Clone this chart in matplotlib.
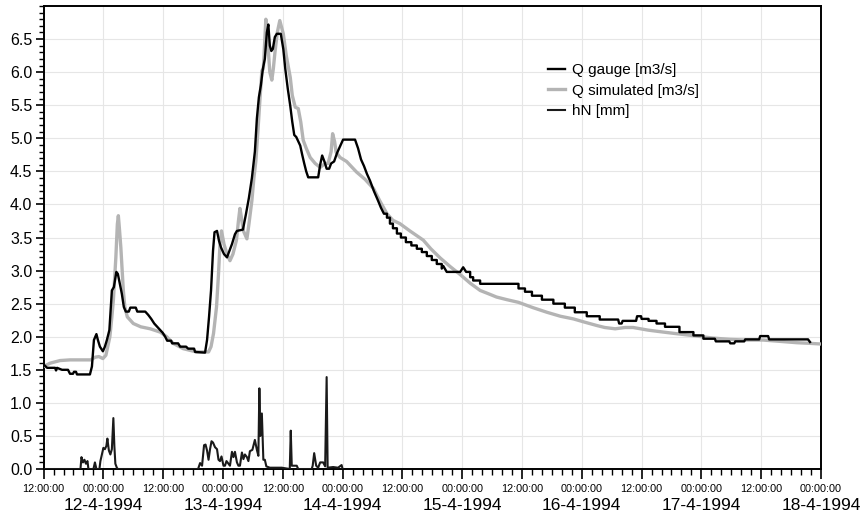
import pandas as pd
import matplotlib
matplotlib.use('Agg')
import matplotlib.pyplot as plt
import matplotlib.dates as mdates
from matplotlib.ticker import MultipleLocator

plt.rcParams['font.family'] = ['Liberation Sans', 'DejaVu Sans']

# time axis: hours after 11-4-1994 12:00
start = pd.Timestamp('1994-04-11 12:00')

# Q gauge [m3/s]
gauge_h = [0.0, 0.7, 2.3, 2.5, 2.7, 3.7, 4.9, 5.3, 5.9, 6.1, 6.5, 6.7, 9.3, 9.7, 10.1, 10.6,
           10.9, 11.3, 11.9, 12.3, 12.7, 13.2, 13.5, 13.7, 14.1, 14.6, 14.9, 15.3, 15.7, 16.1,
           16.5, 17.1, 17.4, 18.5, 18.8, 20.4, 21.0, 21.6, 22.2, 22.8, 23.4, 23.9, 24.4, 24.8,
           25.6, 25.8, 27.0, 27.4, 28.6, 29.0, 30.2, 30.4, 32.4, 32.8, 33.2, 33.6, 34.0, 34.3,
           34.8, 35.2, 35.6, 36.2, 36.8, 37.3, 37.8, 38.4, 38.8, 40.0, 40.6, 41.2, 41.8, 42.4,
           42.8, 43.2, 43.6, 44.0, 44.4, 44.8, 45.1, 45.4, 45.7, 46.0, 46.4, 46.8, 47.6, 48.1,
           48.5, 49.0, 49.5, 49.9, 50.3, 50.7, 51.0, 51.5, 51.9, 52.3, 52.7, 53.1, 55.1, 55.5,
           55.9, 56.4, 56.8, 57.3, 57.7, 58.3, 58.9, 59.5, 60.1, 62.5, 63.1, 63.7, 64.3, 64.9,
           65.5, 66.3, 67.1, 67.7, 68.3,
           68.9, 68.9, 69.5, 69.5, 70.1, 70.1, 70.9, 70.9, 71.7, 71.7, 72.7, 72.7, 73.8, 73.8,
           74.9, 74.9, 75.9, 75.9, 76.9, 76.9, 77.9, 77.9, 78.9, 78.9, 79.9, 79.9, 80.2, 80.9,
           83.6, 84.2, 84.8, 85.6, 85.6, 86.2, 86.2, 87.6, 87.6,
           95.3, 95.3, 96.6, 96.6, 98.0, 98.0, 100.0, 100.0, 102.3, 102.3, 104.6, 104.6,
           106.6, 106.6, 109.0, 109.0, 111.6, 111.6, 115.3, 115.5, 116.0, 116.2, 118.9, 119.1,
           119.9, 120.0, 121.4, 121.4, 123.0, 123.0, 124.7, 124.7, 127.6, 127.6, 130.4, 130.4,
           132.4, 132.4, 134.7, 134.9, 137.6, 137.8, 138.6, 138.8, 140.6, 140.8, 143.6, 143.8,
           145.4, 145.6, 153.4, 153.8]
gauge_q = [1.58, 1.53, 1.53, 1.49, 1.53, 1.50, 1.50, 1.44, 1.44, 1.47, 1.47, 1.43, 1.43, 1.55,
           1.95, 2.04, 1.95, 1.85, 1.78, 1.85, 1.95, 2.10, 2.45, 2.70, 2.75, 2.98, 2.95, 2.80,
           2.65, 2.45, 2.38, 2.38, 2.44, 2.44, 2.38, 2.38, 2.33, 2.27, 2.20, 2.15, 2.10, 2.06,
           2.00, 1.94, 1.94, 1.90, 1.90, 1.85, 1.85, 1.82, 1.82, 1.77, 1.76, 1.95, 2.30, 2.70,
           3.30, 3.58, 3.60, 3.45, 3.35, 3.25, 3.20, 3.30, 3.40, 3.55, 3.60, 3.62, 3.85, 4.10,
           4.40, 4.80, 5.30, 5.62, 5.80, 6.05, 6.20, 6.60, 6.72, 6.40, 6.32, 6.35, 6.53, 6.58,
           6.58, 6.35, 6.05, 5.75, 5.49, 5.25, 5.05, 5.02, 4.97, 4.89, 4.75, 4.62, 4.50, 4.41,
           4.41, 4.60, 4.74, 4.64, 4.54, 4.54, 4.62, 4.65, 4.78, 4.88, 4.98, 4.98, 4.85, 4.68,
           4.58, 4.46, 4.36, 4.20, 4.06, 3.95, 3.86,
           3.86, 3.80, 3.80, 3.71, 3.71, 3.64, 3.64, 3.56, 3.56, 3.50, 3.50, 3.43, 3.43, 3.38,
           3.38, 3.33, 3.33, 3.28, 3.28, 3.22, 3.22, 3.16, 3.16, 3.10, 3.10, 3.03, 3.07, 2.98,
           2.98, 3.05, 2.98, 2.98, 2.90, 2.90, 2.85, 2.85, 2.80,
           2.80, 2.73, 2.73, 2.68, 2.68, 2.62, 2.62, 2.56, 2.56, 2.50, 2.50, 2.44,
           2.44, 2.37, 2.37, 2.31, 2.31, 2.26, 2.26, 2.20, 2.20, 2.24, 2.24, 2.31,
           2.31, 2.27, 2.27, 2.24, 2.24, 2.20, 2.20, 2.15, 2.15, 2.07, 2.07, 2.02,
           2.02, 1.97, 1.97, 1.93, 1.93, 1.90, 1.90, 1.93, 1.93, 1.96, 1.96, 2.01,
           2.01, 1.96, 1.96, 1.92]

# Q simulated [m3/s]
sim_h = [0.0, 1.3, 3.3, 5.3, 9.5, 10.3, 11.1, 11.9, 12.5, 13.3, 13.7, 14.0, 14.5, 14.8, 15.0,
         15.2, 15.5, 16.0, 16.3, 16.8, 18.0, 19.5, 21.4, 23.4, 24.7, 26.0, 28.0, 30.7, 33.1,
         33.6, 34.1, 34.7, 35.1, 35.4, 35.7, 36.2, 36.8, 37.4, 38.0, 38.7, 39.1, 39.4, 39.7,
         40.1, 40.8, 41.2, 41.8, 42.2, 42.6, 43.0, 43.4, 43.8, 44.1, 44.4, 44.6, 44.8, 45.1,
         45.4, 45.8, 46.1, 46.4, 46.9, 47.4, 48.1, 48.7, 49.5, 49.9, 50.5, 51.1, 51.6, 52.1,
         52.7, 53.5, 54.5, 55.5, 56.5, 57.1, 57.7, 58.0, 58.4, 58.7, 59.5, 60.8, 62.8, 64.5,
         66.2, 67.5, 68.9, 70.1, 71.5, 73.5, 76.2, 77.7, 79.6, 81.6, 83.6, 85.6, 87.6, 89.6,
         90.9, 93.0, 95.3, 98.2, 101.0, 103.7, 106.3, 108.6, 111.0, 112.6, 114.7, 116.7, 118.3,
         121.3, 124.4, 127.7, 131.1, 134.3, 137.7, 140.9, 144.4, 147.8, 151.1, 153.8, 156.0]
sim_q = [1.55, 1.60, 1.64, 1.65, 1.65, 1.69, 1.70, 1.67, 1.72, 2.00, 2.30, 2.55, 3.20, 3.70,
         3.83, 3.65, 3.35, 2.70, 2.45, 2.30, 2.20, 2.15, 2.12, 2.07, 2.00, 1.90, 1.82, 1.77,
         1.77, 1.85, 2.05, 2.45, 2.95, 3.40, 3.60, 3.40, 3.25, 3.15, 3.25, 3.46, 3.75, 3.94,
         3.80, 3.60, 3.48, 3.70, 4.06, 4.40, 4.66, 5.10, 5.57, 6.02, 6.05, 6.50, 6.80, 6.60,
         6.32, 6.00, 5.88, 6.05, 6.28, 6.60, 6.78, 6.58, 6.25, 5.92, 5.65, 5.47, 5.45, 5.25,
         4.97, 4.85, 4.71, 4.62, 4.56, 4.62, 4.62, 4.80, 5.07, 4.95, 4.79, 4.71, 4.65, 4.49,
         4.38, 4.24, 4.05, 3.86, 3.76, 3.71, 3.60, 3.46, 3.33, 3.19, 3.06, 2.94, 2.81, 2.70,
         2.64, 2.60, 2.56, 2.52, 2.44, 2.37, 2.31, 2.27, 2.22, 2.17, 2.14, 2.12, 2.14, 2.14,
         2.10, 2.07, 2.04, 2.01, 1.98, 1.96, 1.95, 1.95, 1.93, 1.91, 1.90, 1.89]

# hN [mm]
rain_h = [0.0, 7.4, 7.6, 7.9, 8.2, 8.5, 8.8, 9.0, 10.0, 10.3, 10.6, 11.2, 11.4, 11.7, 12.0,
          12.3, 12.6, 12.8, 13.1, 13.4, 13.7, 14.0, 14.2, 14.4, 14.7, 14.9, 31.0, 31.4, 31.8,
          32.2, 32.5, 32.8, 33.1, 33.4, 33.7, 34.0, 34.4, 34.8, 35.1, 35.4, 35.7, 36.1, 36.4,
          36.7, 37.1, 37.4, 37.8, 38.1, 38.4, 38.8, 39.1, 39.4, 39.8, 40.1, 40.4, 40.8, 41.1,
          41.4, 41.9, 42.4, 42.8, 43.1, 43.3, 43.5, 43.8, 44.1, 44.4, 44.7, 45.4, 47.8, 49.4,
          49.6, 49.8, 50.8, 51.1, 53.8, 54.0, 54.3, 54.7, 55.1, 55.5, 56.1, 56.5, 56.8, 57.0,
          58.1, 59.1, 59.8, 60.0]
rain_mm = [0.0, 0.0, 0.18, 0.10, 0.14, 0.08, 0.12, 0.0, 0.0, 0.10, 0.0, 0.0, 0.12, 0.22, 0.32,
           0.30, 0.35, 0.46, 0.28, 0.22, 0.30, 0.77, 0.35, 0.08, 0.02, 0.0, 0.0, 0.09, 0.05,
           0.36, 0.37, 0.28, 0.14, 0.30, 0.42, 0.40, 0.33, 0.30, 0.14, 0.12, 0.19, 0.05, 0.05,
           0.12, 0.08, 0.05, 0.26, 0.18, 0.26, 0.10, 0.05, 0.05, 0.25, 0.15, 0.22, 0.18, 0.12,
           0.27, 0.29, 0.44, 0.29, 0.20, 1.22, 0.50, 0.84, 0.14, 0.14, 0.04, 0.02, 0.02, 0.0,
           0.58, 0.05, 0.05, 0.0, 0.0, 0.05, 0.24, 0.05, 0.02, 0.10, 0.10, 0.04, 1.39, 0.02,
           0.03, 0.02, 0.06, 0.0]

day_labels = ['12-4-1994', '13-4-1994', '14-4-1994', '15-4-1994',
              '16-4-1994', '17-4-1994', '18-4-1994']


def to_time(hours):
    return start + pd.to_timedelta(hours, unit='h')


fig = plt.figure(figsize=(8.65, 5.14), dpi=100)
ax = fig.add_axes([0.0504, 0.0875, 0.8987, 0.9008])

ax.plot(to_time(gauge_h), gauge_q, color='black', lw=1.7, label='Q gauge [m3/s]', zorder=4)
ax.plot(to_time(sim_h), sim_q, color='#b4b4b4', lw=2.4, label='Q simulated [m3/s]', zorder=3)
ax.plot(to_time(rain_h), rain_mm, color='#1a1a1a', lw=1.5, label='hN [mm]', zorder=5)

ax.set_xlim(start, start + pd.Timedelta(hours=156))
ax.set_ylim(0, 7.0)

ax.xaxis.set_major_locator(mdates.HourLocator(byhour=[0, 12]))
ax.xaxis.set_minor_locator(mdates.HourLocator(interval=2))
ax.xaxis.set_major_formatter(mdates.DateFormatter('%H:%M:%S'))
ax.set_yticks([i * 0.5 for i in range(14)])
ax.yaxis.set_minor_locator(MultipleLocator(0.1))
ax.yaxis.set_major_formatter(matplotlib.ticker.FormatStrFormatter('%.1f'))

ax.tick_params(axis='x', which='major', length=7, width=1.2, labelsize=7.8, pad=4)
ax.tick_params(axis='x', which='minor', length=4, width=1.0)
ax.tick_params(axis='y', which='major', length=6, width=1.2, labelsize=11.5, pad=2)
ax.tick_params(axis='y', which='minor', length=3.5, width=1.0)

for s in ax.spines.values():
    s.set_linewidth(1.4)

ax.grid(True, which='major', color='#e6e6e6', lw=0.8)
ax.set_axisbelow(True)

# date under each midnight tick
for i, lab in enumerate(day_labels):
    ax.text(start + pd.Timedelta(hours=12 + 24 * i), -0.078, lab, ha='center', va='center',
            fontsize=12.5, transform=ax.get_xaxis_transform(), clip_on=False)

ax.legend(loc='upper left', bbox_to_anchor=(0.649, 0.876), frameon=False, fontsize=11,
          handlelength=1.1, handletextpad=0.45, labelspacing=0.42, borderpad=0,
          borderaxespad=0)

fig.savefig('out.png', dpi=100)
